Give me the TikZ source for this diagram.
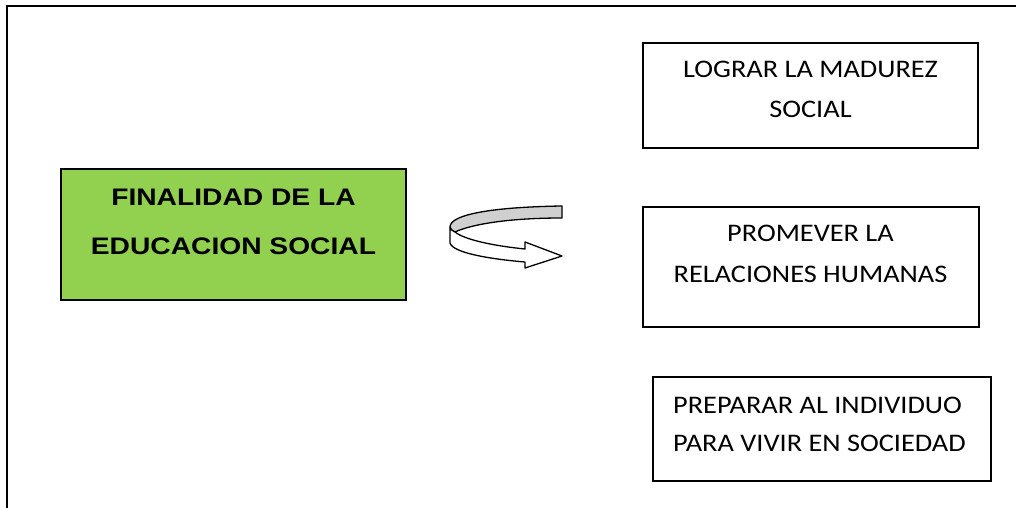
\documentclass[tikz,border=0pt]{standalone}
\usepackage{fontspec}
\newfontfamily\calfont[FakeStretch=1.12]{Carlito}
\newfontfamily\arialfont[FakeStretch=1.18]{Liberation Sans}
\definecolor{goalgreen}{HTML}{92D050}
\definecolor{ribbongray}{HTML}{D0D0D0}
\tikzset{
  framebox/.style={draw=black, line width=1.5pt, inner sep=0pt},
  goalbox/.style={framebox, fill=goalgreen},
  goaltext/.style={anchor=base, inner sep=0pt, font=\arialfont\bfseries\fontsize{23.9}{28}\selectfont},
  itemtext/.style={anchor=base, inner sep=0pt, font=\calfont\fontsize{25.3}{30}\selectfont},
  itemtextleft/.style={anchor=base west, inner sep=0pt, font=\calfont\fontsize{25.3}{30}\selectfont},
  ribbon/.style={draw=black, line width=1.3pt, line join=round}
}
\begin{document}
\begin{tikzpicture}[x=1pt,y=-1pt]
\useasboundingbox (0,0) rectangle (1016,508);
% outer frame (open on right and bottom)
\draw[line width=1.8pt] (7.3,508) -- (7.3,5.7) -- (1016,5.7);

% central box
\node[goalbox, minimum width=345pt, minimum height=131pt] (goal) at (233.5,234.5) {};
\node[goaltext] (goalA) at (233.5,205.7) {FINALIDAD DE LA};
\node[goaltext] (goalB) at (233.5,254.3) {EDUCACION SOCIAL};

% right boxes
\node[framebox, minimum width=335pt, minimum height=105pt] (b1) at (810.5,95.5) {};
\node[itemtext] (b1a) at (810.5,77.8) {LOGRAR LA MADUREZ};
\node[itemtext] (b1b) at (810.5,117.5) {SOCIAL};

\node[framebox, minimum width=336pt, minimum height=120pt] (b2) at (811,267) {};
\node[itemtext] (b2a) at (810.5,241.7) {PROMEVER LA};
\node[itemtext] (b2b) at (810.5,282.3) {RELACIONES HUMANAS};

\node[framebox, minimum width=338pt, minimum height=104pt] (b3) at (822,429) {};
\node[itemtextleft] (b3a) at (673,413.3) {PREPARAR AL INDIVIDUO};
\node[itemtextleft] (b3b) at (673,451) {PARA VIVIR EN SOCIEDAD};

% curved ribbon arrow
\filldraw[ribbon, fill=ribbongray]
  (562,206) .. controls (495,207) and (450,214) .. (450,227)
  .. controls (450,229) and (452,231) .. (455,232)
  .. controls (470,225) and (505,218) .. (562,218) -- cycle;
\filldraw[ribbon, fill=white]
  (450,227) -- (450,243)
  .. controls (453,253) and (490,259) .. (525,262)
  -- (525,268) -- (562,256) -- (525,242) -- (525,249)
  .. controls (495,246) and (465,240) .. (455,232)
  .. controls (452,231) and (450,229) .. (450,227) -- cycle;
\end{tikzpicture}
\end{document}
